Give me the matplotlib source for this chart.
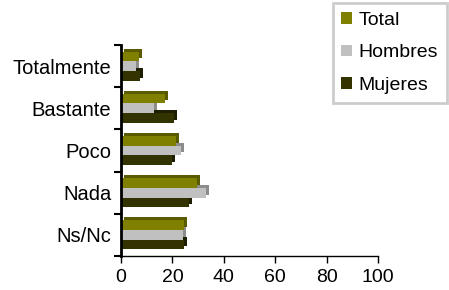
import matplotlib
matplotlib.use('Agg')
import matplotlib.pyplot as plt
import matplotlib.transforms as mtransforms
import numpy as np

plt.rcParams['font.family'] = ['Liberation Sans', 'DejaVu Sans']
plt.rcParams['font.size'] = 14

# Data (categories listed bottom to top)
categories = ['Ns/Nc', 'Nada', 'Poco', 'Bastante', 'Totalmente']
total = [24.5, 29.5, 21.5, 17, 7]
hombres = [24, 33, 23.5, 13, 6]
mujeres = [24.5, 26.5, 20, 20.5, 7.5]

series = ['Total', 'Hombres', 'Mujeres']
colors = ['#808000', '#C0C0C0', '#333300']
side_colors = ['#5a5a00', '#8c8c8c', '#1e1e00']

fig = plt.figure(figsize=(4.49, 2.9), dpi=100)
ax = fig.add_axes([121 / 449, 1 - 256 / 290, 257 / 449, 211 / 290])

y = np.arange(len(categories))
h = 0.23
offsets = [0.23, 0.0, -0.23]
values = [total, hombres, mujeres]

# depth shift for pseudo-3D look
depth = mtransforms.offset_copy(ax.transData, fig=fig, x=3, y=3, units='dots')

# draw bottom bar first so upper bars cover the depth faces
for k in [2, 1, 0]:
    ax.barh(y + offsets[k], values[k], height=h, color=side_colors[k],
            transform=depth, zorder=2 + (2 - k) * 2, linewidth=0)
    ax.barh(y + offsets[k], values[k], height=h, color=colors[k],
            zorder=3 + (2 - k) * 2, linewidth=0, label=series[k])

ax.set_xlim(0, 100)
ax.set_ylim(-0.5, len(categories) - 0.5)
ax.set_xticks([0, 20, 40, 60, 80, 100])
ax.set_yticks(y)
ax.set_yticklabels(categories, fontsize=14.5)
ax.set_yticks(np.arange(-0.5, len(categories), 1), minor=True)
ax.tick_params(axis='y', which='major', length=0, pad=7)
ax.tick_params(axis='y', which='minor', length=5, width=1.5, direction='out')
ax.tick_params(axis='x', length=5, width=1, direction='out', pad=4, labelsize=14)

for s in ['top', 'right']:
    ax.spines[s].set_visible(False)
ax.spines['left'].set_linewidth(2)
ax.spines['bottom'].set_linewidth(1)
ax.spines['left'].set_zorder(20)

handles, labels = ax.get_legend_handles_labels()
order = [labels.index(s) for s in series]
leg = fig.legend([handles[i] for i in order], [labels[i] for i in order],
                 loc='upper right', bbox_to_anchor=(447 / 449, 1 - 3 / 290),
                 fancybox=False, frameon=True, handlelength=0.55, handleheight=0.55,
                 handletextpad=0.35, labelspacing=0.8, borderpad=0.45,
                 borderaxespad=0, fontsize=14)
leg.get_frame().set_edgecolor('#c0c0c0')
leg.get_frame().set_linewidth(2)

fig.savefig('out.png', dpi=100)
